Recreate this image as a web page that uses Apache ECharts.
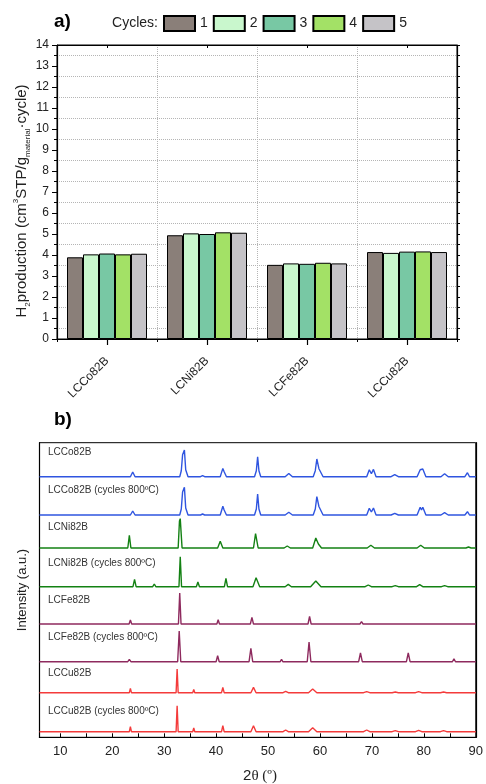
<!DOCTYPE html>
<html>
<head>
<meta charset="utf-8">
<script src="https://cdn.jsdelivr.net/npm/echarts@6/dist/echarts.min.js"></script>
<style>html,body{margin:0;padding:0;background:#fff;}#c{width:486px;height:784px;}</style>
</head>
<body>
<div id="c"></div>
<script>
// ---------- Panel a data ----------
const categories = ['LCCo82B', 'LCNi82B', 'LCFe82B', 'LCCu82B'];
const cycleNames = ['1', '2', '3', '4', '5'];
const cycle1 = [3.89, 4.94, 3.53, 4.14];
const cycle2 = [4.03, 5.03, 3.60, 4.10];
const cycle3 = [4.07, 5.00, 3.58, 4.16];
const cycle4 = [4.03, 5.08, 3.63, 4.17];
const cycle5 = [4.06, 5.06, 3.60, 4.14];
const yTicksA = [0, 14, 1];

// ---------- Panel b data (2θ, intensity above own baseline) ----------
const traceNames = ['LCCo82B', 'LCCo82B (cycles 800ºC)', 'LCNi82B', 'LCNi82B (cycles 800ºC)',
  'LCFe82B', 'LCFe82B (cycles 800ºC)', 'LCCu82B', 'LCCu82B (cycles 800ºC)'];
const traceOffsets = [260.6, 222.3, 189.3, 150.6, 113.3, 75.6, 44.6, 5.6];
const xTickLabels = [10, 20, 30, 40, 50, 60, 70, 80, 90];
const xTicks = [10, 15, 20, 25, 30, 35, 40, 45, 50, 55, 60, 65, 70, 75, 80, 85, 90];

const lcco = [[6,0],[23.5,0],[23.95,4.7],[24.4,0],
  [33.0,0],[33.3,6],[33.55,22],[33.7,20],[33.9,26.7],[34.15,7],[34.6,0],
  [37.0,0],[37.4,1],[37.8,0],
  [40.8,0],[41.3,8.3],[41.55,5],[42.0,0],
  [47.4,0],[47.75,6],[48.0,20],[48.25,6],[48.6,0],
  [53.3,0],[54.0,3.3],[54.7,0],
  [58.7,0],[59.1,6],[59.4,17.7],[59.8,8],[60.0,7.7],[60.6,0],
  [69.0,0],[69.5,7],[69.9,3],[70.3,7.3],[70.8,0],
  [73.7,0],[74.4,2],[75.1,0],
  [78.7,0],[79.3,7],[79.55,5],[79.8,7.7],[80.4,0],
  [83.3,0],[84.0,3],[84.7,0],
  [87.9,0],[88.4,4],[88.8,0],[90,0]];
const lccoCyc = [[6,0],[23.5,0],[23.95,4],[24.4,0],
  [33.0,0],[33.3,6],[33.55,23],[33.7,21],[33.9,27.7],[34.15,7],[34.6,0],
  [37.0,0],[37.4,1],[37.8,0],
  [40.8,0],[41.3,8.7],[41.55,5],[42.0,0],
  [47.4,0],[47.75,6],[48.0,21],[48.25,6],[48.6,0],
  [53.3,0],[54.0,2.7],[54.7,0],
  [58.7,0],[59.1,6],[59.4,18.3],[59.8,8.5],[60.0,8.3],[60.6,0],
  [69.0,0],[69.5,6.7],[69.9,3],[70.3,7],[70.8,0],
  [73.7,0],[74.4,1.7],[75.1,0],
  [78.7,0],[79.3,7.7],[79.55,5],[79.8,7.7],[80.4,0],
  [83.3,0],[84.0,2.3],[84.7,0],
  [87.9,0],[88.4,3.3],[88.8,0],[90,0]];
const lcni = [[6,0],[23.0,0],[23.3,12.7],[23.6,0],
  [32.7,0],[32.95,27],[33.1,29.4],[33.45,0],
  [40.3,0],[40.8,6.7],[41.3,0],
  [47.2,0],[47.6,14.4],[48.1,0],
  [53.1,0],[53.7,2],[54.3,0],
  [58.6,0],[59.2,10],[59.7,4],[60.3,0],
  [69.1,0],[69.8,2.7],[70.5,0],
  [78.7,0],[79.4,2.7],[80.1,0],
  [88.1,0],[88.6,1],[89.1,0],[90,0]];
const lcniCyc = [[6,0],[24.0,0],[24.3,7.3],[24.6,0],
  [27.8,0],[28.1,2.7],[28.4,0],
  [32.85,0],[33.1,30],[33.35,0],
  [36.2,0],[36.5,4.7],[36.8,0],
  [41.6,0],[41.9,8.3],[42.2,0],
  [43.4,0],[43.7,1.7],[44.0,0],
  [47.1,0],[47.7,9],[48.4,0],
  [53.3,0],[53.9,2.3],[54.5,0],
  [58.2,0],[59.2,5.7],[60.2,0],
  [68.7,0],[69.3,1.7],[69.9,0],
  [73.9,0],[74.5,1],[75.1,0],
  [78.6,0],[79.2,2],[79.8,0],
  [83.4,0],[84.0,1],[84.6,0],[90,0]];
const lcfe = [[6,0],[23.25,0],[23.5,4],[23.75,0],
  [26.0,0],[26.2,1.7],[26.4,0],
  [32.75,0],[33.0,31],[33.25,0],
  [40.15,0],[40.4,4.3],[40.65,0],
  [46.6,0],[46.9,6.7],[47.2,0],
  [52.5,0],[52.7,1.3],[52.9,0],
  [57.7,0],[58.0,7.7],[58.3,0],
  [67.7,0],[68.0,2.3],[68.3,0],
  [77.0,0],[77.3,2],[77.6,0],[90,0]];
const lcfeCyc = [[6,0],[23.0,0],[23.3,2.3],[23.6,0],
  [32.6,0],[32.9,30.7],[33.2,0],
  [40.0,0],[40.3,6],[40.6,0],
  [46.35,0],[46.7,13.3],[47.05,0],
  [47.9,0],[48.1,1],[48.3,0],
  [52.35,0],[52.6,2.3],[52.85,0],
  [53.7,0],[53.9,1.3],[54.1,0],
  [57.55,0],[57.9,19.7],[58.25,0],
  [63.8,0],[64.0,1.3],[64.2,0],
  [67.45,0],[67.8,8.7],[68.15,0],
  [72.1,0],[72.3,1.3],[72.5,0],
  [76.65,0],[77.0,8.7],[77.35,0],
  [81.2,0],[81.4,2],[81.6,0],
  [82.3,0],[82.5,1],[82.7,0],
  [85.5,0],[85.8,3],[86.1,0],[90,0]];
const lccu = [[6,0],[23.3,0],[23.5,4.3],[23.7,0],
  [27.1,0],[27.3,1.3],[27.5,0],
  [32.3,0],[32.5,23.7],[32.7,0],
  [35.5,0],[35.7,3.3],[35.9,0],
  [41.05,0],[41.3,5.3],[41.55,0],
  [46.7,0],[47.2,5.3],[47.7,0],
  [52.9,0],[53.4,1.3],[53.9,0],
  [57.8,0],[58.6,3.7],[59.4,0],
  [68.4,0],[69.0,1],[69.6,0],
  [73.9,0],[74.5,0.7],[75.1,0],
  [78.4,0],[79.0,1],[79.6,0],
  [83.2,0],[83.8,0.7],[84.4,0],[90,0]];
const lccuCyc = [[6,0],[23.3,0],[23.5,5],[23.7,0],
  [27.1,0],[27.3,1.7],[27.5,0],
  [32.3,0],[32.5,26],[32.7,0],
  [35.5,0],[35.7,3.7],[35.9,0],
  [41.05,0],[41.3,6],[41.55,0],
  [46.7,0],[47.2,6],[47.7,0],
  [52.9,0],[53.4,1.7],[53.9,0],
  [57.8,0],[58.6,4],[59.4,0],
  [68.4,0],[69.0,1.7],[69.6,0],
  [73.9,0],[74.5,1],[75.1,0],
  [78.4,0],[79.0,1.3],[79.6,0],
  [83.2,0],[83.8,1],[84.4,0],[90,0]];
const traces = [lcco, lccoCyc, lcni, lcniCyc, lcfe, lcfeCyc, lccu, lccuCyc];

// ---------- styles ----------
const barColors = ['#8a7f79', '#c9f7cd', '#78c8a4', '#a3e166', '#c5c3c7'];
const traceColors = ['#2f55e0', '#2f55e0', '#138113', '#138113', '#8e2a5e', '#8e2a5e', '#f43b3b', '#f43b3b'];
const labelY = [452.7, 490, 527.7, 563.3, 600.7, 637.3, 673.7, 711.7];

const chart = echarts.init(document.getElementById('c'), null, {renderer: 'canvas'});
const barSeriesData = [cycle1, cycle2, cycle3, cycle4, cycle5];

const series = [];
barSeriesData.forEach((d, i) => {
  series.push({
    type: 'bar', name: cycleNames[i], xAxisIndex: 0, yAxisIndex: 0, data: d,
    barGap: '0%', barCategoryGap: '20%',
    itemStyle: {color: barColors[i], borderColor: '#000', borderWidth: 1}
  });
});
traces.forEach((t, i) => {
  series.push({
    type: 'line', name: traceNames[i], xAxisIndex: 3, yAxisIndex: 2, symbol: 'none',
    data: t.map(p => [p[0], p[1] + traceOffsets[i]]),
    lineStyle: {color: traceColors[i], width: 1.4}, silent: true
  });
});

const graphics = [
  {type: 'text', left: 54, top: 12, style: {text: 'a)', font: 'bold 19px Arial', fill: '#000'}},
  {type: 'text', left: 54, top: 410, style: {text: 'b)', font: 'bold 19px Arial', fill: '#000'}},
  {type: 'text', x: 158, y: 23, style: {text: 'Cycles:', font: '14px Arial', fill: '#222', align: 'right', verticalAlign: 'middle'}},
  {type: 'text', x: 22, y: 201, rotation: Math.PI / 2,
    style: {text: '{a|H}{b|2}{a|production (cm}{c|3}{a|STP/g}{b|material}{a|·cycle)}',
      align: 'center', verticalAlign: 'middle',
      rich: {
        a: {fontSize: 15, fontFamily: 'Arial', fill: '#222', lineHeight: 20},
        b: {fontSize: 8, fontFamily: 'Arial', fill: '#222', verticalAlign: 'bottom', lineHeight: 20},
        c: {fontSize: 8, fontFamily: 'Arial', fill: '#222', verticalAlign: 'top', lineHeight: 20}
      }}},
  {type: 'text', x: 22, y: 590, rotation: Math.PI / 2,
    style: {text: 'Intensity (a.u.)', font: '13px Arial', fill: '#222', align: 'center', verticalAlign: 'middle'}},
  {type: 'text', x: 260, y: 776,
    style: {text: '{a|2}{b|θ (º)}', align: 'center', verticalAlign: 'middle',
      rich: {a: {fontSize: 15, fontFamily: 'Arial', fill: '#222'}, b: {fontSize: 15, fontFamily: 'Liberation Serif', fill: '#222'}}}}
];
traceNames.forEach((n, i) => {
  graphics.push({type: 'text', x: 48, y: labelY[i],
    style: {text: n, font: '10px Arial', fill: '#333', verticalAlign: 'middle'}});
});

chart.setOption({
  animation: false,
  backgroundColor: '#fff',
  graphic: graphics,
  legend: {
    data: cycleNames, left: 163, top: 15, padding: 0, itemWidth: 31, itemHeight: 15, itemGap: 5,
    icon: 'rect', textStyle: {fontSize: 14, color: '#222', fontFamily: 'Arial'}, selectedMode: false
  },
  grid: [
    {left: 57, top: 45, width: 400, height: 294, show: true, borderColor: '#000', borderWidth: 1, backgroundColor: 'transparent'},
    {left: 39.5, top: 442.7, width: 440, height: 294.6, show: true, borderColor: '#000', borderWidth: 1, backgroundColor: 'transparent'}
  ],
  xAxis: [
    {gridIndex: 0, type: 'category', data: categories, position: 'bottom',
      axisLine: {lineStyle: {color: '#000', width: 1.2}},
      axisTick: {show: true, length: 3, lineStyle: {color: '#000'}},
      axisLabel: {rotate: 45, fontSize: 12, color: '#222', margin: 20, interval: 0, fontFamily: 'Arial'},
      splitLine: {show: true, lineStyle: {type: 'dotted', color: '#b5b5b5', width: 1}}},
    {gridIndex: 0, type: 'category', data: categories, position: 'bottom',
      axisLine: {show: false}, axisTick: {show: true, alignWithLabel: true, length: 6, lineStyle: {color: '#000', width: 1.2}},
      axisLabel: {show: false}, splitLine: {show: false}},
    {gridIndex: 0, type: 'category', data: categories, position: 'top',
      axisLine: {lineStyle: {color: '#000', width: 1.2}}, axisTick: {show: true, inside: true, alignWithLabel: true, length: 3, lineStyle: {color: '#000'}},
      axisLabel: {show: false}, splitLine: {show: false}},
    {gridIndex: 1, type: 'value', min: 6, max: 90, position: 'bottom',
      axisLine: {lineStyle: {color: '#000', width: 1.2}},
      axisTick: {show: true, inside: true, length: 4, customValues: xTicks, lineStyle: {color: '#000'}},
      axisLabel: {fontSize: 13, color: '#222', margin: 8, customValues: xTickLabels, fontFamily: 'Arial'},
      splitLine: {show: false}},
    {gridIndex: 1, type: 'value', min: 6, max: 90, position: 'top',
      axisLine: {lineStyle: {color: '#000', width: 1.2}}, axisTick: {show: false}, axisLabel: {show: false}, splitLine: {show: false}}
  ],
  yAxis: [
    {gridIndex: 0, type: 'value', min: yTicksA[0], max: yTicksA[1], interval: yTicksA[2], position: 'left',
      axisLine: {show: true, lineStyle: {color: '#000', width: 1.2}},
      axisTick: {show: true, length: 5, lineStyle: {color: '#000'}},
      minorTick: {show: true, splitNumber: 2, length: 3, lineStyle: {color: '#000'}},
      axisLabel: {fontSize: 12, color: '#222', margin: 8, fontFamily: 'Arial'},
      splitLine: {show: false},
      minorSplitLine: {show: true, lineStyle: {type: 'dotted', color: '#b5b5b5', width: 1}}},
    {gridIndex: 0, type: 'value', min: yTicksA[0], max: yTicksA[1], interval: yTicksA[2], position: 'right',
      axisLine: {show: true, lineStyle: {color: '#000', width: 1.2}},
      axisTick: {show: true, length: 3, lineStyle: {color: '#000'}},
      minorTick: {show: true, splitNumber: 2, length: 3, lineStyle: {color: '#000'}},
      axisLabel: {show: false}, splitLine: {show: false}},
    {gridIndex: 1, type: 'value', min: 0, max: 294.6, position: 'left',
      axisLine: {show: true, lineStyle: {color: '#000', width: 1.2}}, axisTick: {show: false}, axisLabel: {show: false}, splitLine: {show: false}},
    {gridIndex: 1, type: 'value', min: 0, max: 294.6, position: 'right',
      axisLine: {show: true, lineStyle: {color: '#000', width: 1.2}}, axisTick: {show: false}, axisLabel: {show: false}, splitLine: {show: false}}
  ],
  series: series
});
</script>
</body>
</html>
